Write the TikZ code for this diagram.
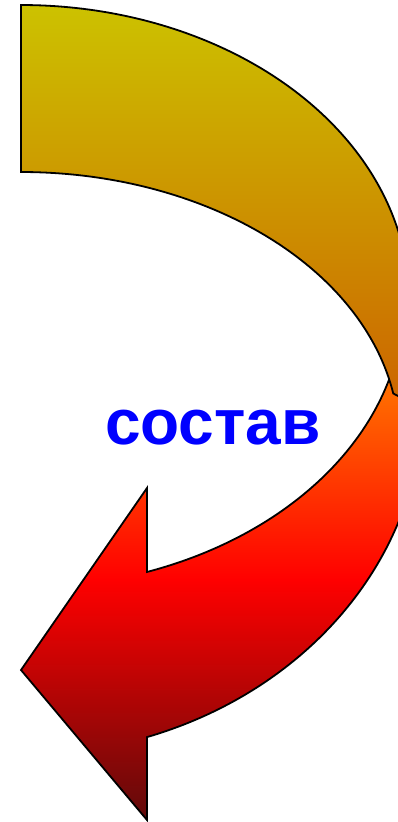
\documentclass[tikz,border=0pt]{standalone}
\usepackage{fontspec}
\setmainfont{Liberation Sans}
\definecolor{topA}{RGB}{204,194,0}
\definecolor{topB}{RGB}{204,100,0}
\definecolor{botA}{RGB}{255,120,0}
\definecolor{botB}{RGB}{255,0,0}
\definecolor{botC}{RGB}{95,10,10}
\definecolor{textblue}{RGB}{0,0,255}
\newcommand\arrowbackpath{plot[domain=90:0,samples=90] ({21+388*cos(\x)},{300-295*sin(\x)}) -- (415,405) -- plot[domain=10:90,samples=90] ({21+378*cos(\x)},{440-268*sin(\x)}) -- cycle}
\newcommand\arrowfrontpath{plot[domain=-70.79:0,samples=90] ({21+383*cos(\x)},{300-288*sin(\x)}) -- (423,400) -- plot[domain=0:-71.74,samples=90] ({21+402*cos(\x)},{400-355*sin(\x)}) -- (147,820) -- (21,670) -- (147,488) -- cycle}
\tikzset{outline/.style={draw=black,line width=1.8pt,line join=miter}}
\begin{document}
\begin{tikzpicture}[x=1pt,y=-1pt]
\useasboundingbox (0,0) rectangle (398,822);
\clip (0,0) rectangle (398,822);
% front (lower) part of the arrow
\begin{scope}
\clip \arrowfrontpath;
\shade[top color=botA,bottom color=botB] (0,370) rectangle (430,580);
\shade[top color=botB,bottom color=botC] (0,579.5) rectangle (430,822);
\end{scope}
\draw[outline] \arrowfrontpath;
% back (upper) part of the arrow
\begin{scope}
\clip \arrowbackpath;
\shade[top color=topA,bottom color=topB] (0,5) rectangle (430,405);
\end{scope}
\draw[outline] \arrowbackpath;
\node[font=\bfseries\fontsize{64}{64}\selectfont,text=textblue,anchor=base,inner sep=0pt] (label) at (213,444) {состав};
\end{tikzpicture}
\end{document}
